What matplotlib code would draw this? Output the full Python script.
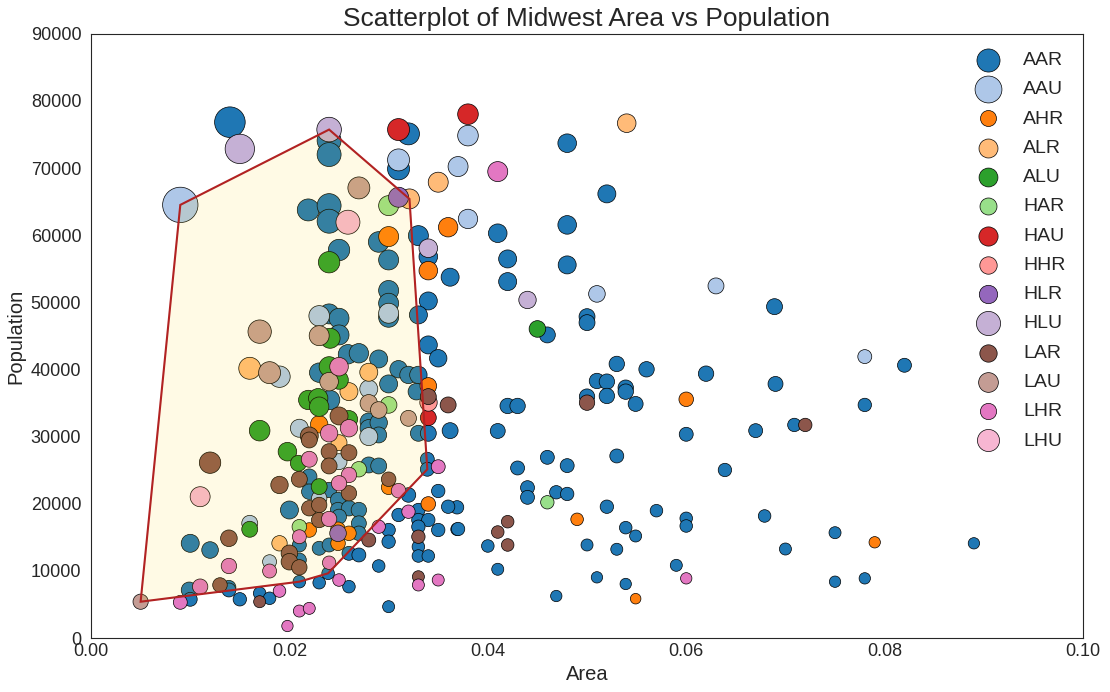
import numpy as np
import matplotlib
matplotlib.use("Agg")
import matplotlib.pyplot as plt

# (area, poptotal, dot_size) per category
aar = [(0.0140, 76840, 485), (0.0240, 74100, 298), (0.0240, 72020, 298), (0.0219, 63770, 250),
       (0.0240, 64410, 298), (0.0240, 62090, 298), (0.0250, 57800, 237), (0.0320, 75100, 250),
       (0.0480, 73710, 179), (0.0310, 69880, 250), (0.0330, 59940, 207), (0.0410, 60300, 179),
       (0.0480, 61540, 179), (0.0520, 66160, 168), (0.0420, 56470, 168), (0.0480, 55580, 168),
       (0.0362, 53750, 168), (0.0420, 53090, 168), (0.0689, 49360, 132), (0.0460, 45150, 132),
       (0.0500, 47870, 132), (0.0500, 46980, 132), (0.0530, 40830, 123), (0.0560, 40030, 123),
       (0.0620, 39380, 123), (0.0690, 37850, 116), (0.0510, 38290, 123), (0.0520, 38190, 123),
       (0.0539, 37290, 123), (0.0539, 36700, 123), (0.0520, 36060, 123), (0.0500, 35960, 123),
       (0.0549, 34870, 116), (0.0420, 34570, 123), (0.0430, 34570, 123), (0.0362, 30890, 132),
       (0.0410, 30840, 116), (0.0600, 30350, 101), (0.0670, 30890, 101), (0.0530, 27120, 101),
       (0.0460, 26920, 101), (0.0480, 25680, 101), (0.0430, 25330, 101), (0.0639, 25030, 93),
       (0.0440, 22400, 101), (0.0440, 20960, 101), (0.0469, 21710, 93), (0.0480, 21460, 93),
       (0.0369, 19470, 93), (0.0520, 19560, 93), (0.0570, 18970, 82), (0.0679, 18180, 82),
       (0.0600, 17830, 82), (0.0600, 16690, 82), (0.0369, 16200, 82), (0.0539, 16440, 82),
       (0.0549, 15200, 75), (0.0400, 13710, 82), (0.0500, 13860, 75), (0.0530, 13220, 75),
       (0.0410, 10240, 75), (0.0590, 10830, 75), (0.0510, 9040, 67), (0.0539, 8050, 67),
       (0.0469, 6260, 67), (0.0780, 34720, 93), (0.0709, 31740, 93), (0.0820, 40630, 101),
       (0.0750, 15690, 75), (0.0700, 13260, 75), (0.0890, 14110, 67), (0.0750, 8390, 67),
       (0.0780, 8890, 67), (0.0290, 59000, 220), (0.0300, 56320, 207), (0.0340, 56810, 179),
       (0.0300, 51770, 207), (0.0300, 49870, 207), (0.0300, 47780, 207), (0.0340, 50210, 168),
       (0.0330, 48130, 168), (0.0340, 43660, 168), (0.0350, 41670, 157), (0.0240, 48280, 207),
       (0.0250, 47630, 207), (0.0250, 45150, 207), (0.0259, 42270, 195), (0.0270, 42420, 195),
       (0.0290, 41570, 168), (0.0310, 40040, 157), (0.0320, 39190, 157), (0.0330, 39190, 157),
       (0.0300, 37850, 168), (0.0328, 36700, 143), (0.0330, 30500, 132), (0.0340, 30500, 132),
       (0.0230, 39530, 195), (0.0241, 35460, 195), (0.0280, 32230, 157), (0.0280, 31250, 157),
       (0.0290, 32080, 157), (0.0290, 30250, 132), (0.0200, 19070, 168), (0.0100, 14110, 168),
       (0.0120, 13110, 143), (0.0099, 7150, 132), (0.0139, 7550, 101), (0.0139, 7160, 101),
       (0.0150, 5770, 93), (0.0170, 6660, 82), (0.0180, 5920, 82), (0.0100, 5770, 101),
       (0.0280, 25780, 132), (0.0290, 25630, 132), (0.0320, 21310, 110), (0.0220, 24040, 123),
       (0.0220, 21800, 123), (0.0240, 22050, 123), (0.0249, 20560, 123), (0.0249, 19070, 123),
       (0.0260, 19330, 123), (0.0270, 19070, 123), (0.0250, 18080, 116), (0.0270, 17090, 116),
       (0.0270, 15600, 110), (0.0210, 13860, 101), (0.0230, 13370, 101), (0.0240, 13860, 101),
       (0.0260, 12620, 101), (0.0270, 12370, 101), (0.0210, 11620, 101), (0.0210, 8390, 82),
       (0.0230, 8240, 82), (0.0260, 7650, 82), (0.0290, 10730, 82), (0.0300, 4670, 75),
       (0.0300, 16090, 93), (0.0300, 14350, 93), (0.0310, 18330, 93), (0.0330, 19070, 93),
       (0.0330, 17580, 93), (0.0340, 17580, 93), (0.0330, 16580, 93), (0.0350, 16090, 93),
       (0.0370, 16240, 93), (0.0360, 19560, 93), (0.0350, 21900, 93), (0.0330, 13600, 82),
       (0.0330, 12220, 82), (0.0340, 12220, 82), (0.0339, 26630, 101), (0.0339, 25140, 101),
       (0.0239, 9640, 82)]
aau = [(0.0090, 64520, 648), (0.0380, 74840, 220), (0.0310, 71220, 250), (0.0370, 70230, 207),
       (0.0380, 62430, 195), (0.0510, 51260, 143), (0.0630, 52450, 132), (0.0780, 41920, 101),
       (0.0300, 48380, 207), (0.0230, 47980, 220), (0.0190, 38930, 237), (0.0280, 37100, 168),
       (0.0210, 31250, 168), (0.0280, 30000, 168), (0.0250, 26270, 132), (0.0230, 20810, 123),
       (0.0160, 17090, 132), (0.0180, 11370, 101)]
ahr = [(0.0300, 59800, 207), (0.0360, 61190, 195), (0.0340, 54730, 179), (0.0340, 37550, 143),
       (0.0230, 31840, 157), (0.0300, 22450, 110), (0.0220, 16090, 110), (0.0249, 16200, 110),
       (0.0260, 15600, 110), (0.0249, 14110, 110), (0.0340, 19970, 110), (0.0600, 35560, 110),
       (0.0490, 17680, 82), (0.0790, 14260, 67), (0.0549, 5860, 58)]
alr = [(0.0540, 76690, 179), (0.0350, 67900, 207), (0.0321, 65410, 207), (0.0160, 40180, 250),
       (0.0280, 39590, 168), (0.0260, 36700, 168), (0.0250, 29100, 132), (0.0190, 14110, 123)]
alu = [(0.0240, 55980, 237), (0.0241, 44650, 207), (0.0240, 40420, 207), (0.0250, 38440, 179),
       (0.0219, 35460, 195), (0.0229, 35720, 195), (0.0230, 34460, 195), (0.0260, 32590, 157),
       (0.0170, 30890, 220), (0.0198, 27760, 179), (0.0209, 26030, 132), (0.0230, 22550, 132),
       (0.0160, 16200, 132), (0.0450, 46040, 143)]
har = [(0.0300, 64410, 207), (0.0300, 34720, 143), (0.0270, 25140, 123), (0.0210, 16580, 110),
       (0.0460, 20220, 93)]
hau = [(0.0310, 75740, 250), (0.0380, 78030, 220), (0.0340, 32820, 132)]
hhr = [(0.0340, 35210, 157)]
hlr = [(0.0310, 65660, 207), (0.0249, 15600, 143)]
hlu = [(0.0150, 72860, 447), (0.0240, 75740, 313), (0.0340, 58060, 179), (0.0440, 50360, 157)]
lar = [(0.0120, 26120, 237), (0.0190, 22800, 157), (0.0139, 14860, 143), (0.0200, 12620, 143),
       (0.0200, 11370, 143), (0.0210, 10530, 123), (0.0130, 7900, 110), (0.0170, 5410, 75),
       (0.0220, 30100, 168), (0.0220, 29500, 132), (0.0250, 33080, 168), (0.0240, 27760, 132),
       (0.0240, 25630, 132), (0.0260, 27610, 132), (0.0300, 23650, 110), (0.0210, 23650, 132),
       (0.0260, 21560, 123), (0.0220, 19330, 123), (0.0230, 19820, 123), (0.0230, 17580, 123),
       (0.0280, 14600, 101), (0.0330, 15090, 93), (0.0330, 9130, 75), (0.0340, 35960, 132),
       (0.0360, 34720, 132), (0.0500, 35060, 123), (0.0420, 17330, 82), (0.0410, 15790, 82),
       (0.0420, 13860, 82), (0.0720, 31740, 93)]
lau = [(0.0270, 67050, 250), (0.0230, 45040, 207), (0.0170, 45640, 283), (0.0180, 39530, 250),
       (0.0240, 38190, 179), (0.0280, 34970, 157), (0.0290, 33970, 143), (0.0320, 32730, 132),
       (0.0050, 5410, 120)]
lhr = [(0.0410, 69480, 207), (0.0250, 40420, 179), (0.0260, 31250, 157), (0.0240, 30500, 157),
       (0.0220, 26630, 132), (0.0260, 24290, 123), (0.0250, 23050, 123), (0.0310, 21950, 110),
       (0.0240, 17730, 123), (0.0210, 15090, 101), (0.0290, 16580, 93), (0.0320, 18820, 93),
       (0.0240, 11220, 93), (0.0139, 10730, 123), (0.0180, 9980, 101), (0.0110, 7650, 123),
       (0.0090, 5320, 101), (0.0190, 7000, 82), (0.0250, 8640, 82), (0.0210, 4020, 75),
       (0.0220, 4420, 75), (0.0198, 1790, 67), (0.0330, 7900, 75), (0.0350, 8640, 75),
       (0.0350, 25520, 101), (0.0600, 8890, 67)]
lhu = [(0.0259, 61940, 298), (0.0110, 21050, 207)]

categories = ['AAR', 'AAU', 'AHR', 'ALR', 'ALU', 'HAR', 'HAU',
              'HHR', 'HLR', 'HLU', 'LAR', 'LAU', 'LHR', 'LHU']
groups = [aar, aau, ahr, alr, alu, har, hau, hhr, hlr, hlu, lar, lau, lhr, lhu]

# Indiana counties (state == 'IN') used for the encircling hull
in_area = [0.0050, 0.0090, 0.0240, 0.0321, 0.0339, 0.0239, 0.0210, 0.0200, 0.0250, 0.0170, 0.0120, 0.0300]
in_pop = [5410, 64520, 75740, 65410, 25140, 9640, 8390, 19070, 33080, 30890, 26120, 47780]


def hull(points):
    # monotone chain convex hull
    pts = sorted(set(points))
    def cross(o, a, b):
        return (a[0] - o[0]) * (b[1] - o[1]) - (a[1] - o[1]) * (b[0] - o[0])
    lower, upper = [], []
    for p in pts:
        while len(lower) >= 2 and cross(lower[-2], lower[-1], p) <= 0:
            lower.pop()
        lower.append(p)
    for p in reversed(pts):
        while len(upper) >= 2 and cross(upper[-2], upper[-1], p) <= 0:
            upper.pop()
        upper.append(p)
    return np.array(lower[:-1] + upper[:-1])


def encircle(x, y, ax=None, **kw):
    if not ax:
        ax = plt.gca()
    p = hull(list(zip(x, y)))
    poly = plt.Polygon(p, **kw)
    ax.add_patch(poly)


plt.rcParams['font.family'] = ['Liberation Sans', 'DejaVu Sans']
plt.rcParams['text.color'] = '.15'
plt.rcParams['axes.labelcolor'] = '.15'
plt.rcParams['xtick.color'] = '.15'
plt.rcParams['ytick.color'] = '.15'
plt.rcParams['axes.edgecolor'] = '.15'
plt.rcParams['xtick.major.size'] = 0
plt.rcParams['ytick.major.size'] = 0

fig = plt.figure(figsize=(11.1, 6.92), dpi=100, facecolor='white')
ax = fig.add_axes([0.082, 0.078, 0.8937, 0.8731])

colors = [plt.cm.tab20(i) for i in range(len(categories))]
for i, (category, rows) in enumerate(zip(categories, groups)):
    a = np.array(rows)
    ax.scatter(a[:, 0], a[:, 1], s=a[:, 2], color=colors[i], label=category,
               edgecolors='black', linewidths=.5)

encircle(in_area, in_pop, ec="k", fc="gold", alpha=0.1)
encircle(in_area, in_pop, ec="firebrick", fc="none", linewidth=1.5)

ax.set(xlim=(0.0, 0.1), ylim=(0, 90000))
ax.set_xlabel('Area', fontsize=14.5)
ax.set_ylabel('Population', fontsize=14.5)
ax.set_xticks(np.arange(0, 0.101, 0.02))
ax.set_xticklabels(['0.00', '0.02', '0.04', '0.06', '0.08', '0.10'])
ax.tick_params(labelsize=13)
ax.tick_params(axis='y', pad=7)
ax.set_title("Scatterplot of Midwest Area vs Population", fontsize=19)
ax.legend(fontsize=14, frameon=False, loc='upper right', labelspacing=0.6)

fig.savefig('out.png', dpi=100)
